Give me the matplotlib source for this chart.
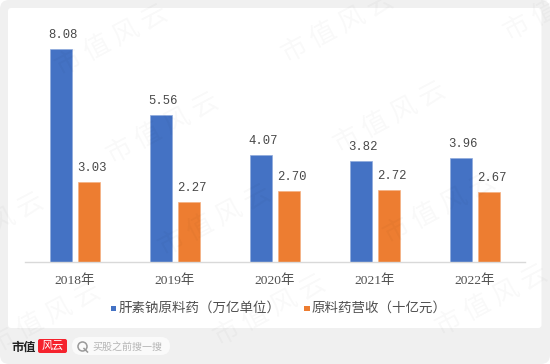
import matplotlib
matplotlib.use("Agg")
import matplotlib.pyplot as plt
from matplotlib.patches import FancyBboxPatch, Rectangle
import numpy as np

years = ["2018年", "2019年", "2020年", "2021年", "2022年"]
series_a_name = "肝素钠原料药（万亿单位）"
series_b_name = "原料药营收（十亿元）"
series_a = [8.08, 5.56, 4.07, 3.82, 3.96]
series_b = [3.03, 2.27, 2.70, 2.72, 2.67]

W, H = 550, 364
CJK = ["Liberation Serif", "Noto Sans CJK SC"]
fig = plt.figure(figsize=(W / 100, H / 100), dpi=100, facecolor="white")

# page furniture in pixel coordinates
bg = fig.add_axes([0, 0, 1, 1], zorder=0)
bg.set_xlim(0, W); bg.set_ylim(H, 0); bg.axis("off")
bg.add_patch(FancyBboxPatch((0, 0), W, H, boxstyle="round,pad=0,rounding_size=9", fc="#f0f0f0", ec="none"))
bg.add_patch(FancyBboxPatch((8, 8), 533.5, 320, boxstyle="round,pad=0,rounding_size=3", fc="white", ec="none"))

# chart
ax = fig.add_axes([25 / W, 1 - 262 / H, 500 / W, 232 / H], zorder=1)
ax.patch.set_alpha(0)
x = np.arange(len(years))
ax.bar(x - 0.14, series_a, 0.225, color="#4472c4", edgecolor="#8faadc", linewidth=0.5)
ax.bar(x + 0.14, series_b, 0.225, color="#ed7d31", edgecolor="#f4b183", linewidth=0.5)
ax.set_xlim(-0.5, 4.5)
ax.set_ylim(0, 232 / 26.36)
for s in ("top", "left", "right"):
    ax.spines[s].set_visible(False)
ax.spines["bottom"].set_color("#d9d9d9")
ax.spines["bottom"].set_linewidth(1)
ax.set_yticks([])
ax.set_xticks(x)
ax.set_xticklabels(years, family=CJK, fontsize=9.7, color="#505050")
ax.tick_params(axis="x", length=0, pad=9)
for i, (a, b) in enumerate(zip(series_a, series_b)):
    ax.annotate(f"{a:.2f}", (i - 0.14, a), xytext=(2, 8), textcoords="offset pixels",
                ha="center", va="bottom", family="Liberation Mono", fontsize=8.8, color="#484848")
    ax.annotate(f"{b:.2f}", (i + 0.14, b), xytext=(3, 8), textcoords="offset pixels",
                ha="center", va="bottom", family="Liberation Mono", fontsize=8.8, color="#484848")

# legend
bg.add_patch(Rectangle((110.5, 305.5), 5.5, 5.5, fc="#4472c4", ec="none"))
bg.text(118.5, 308, series_a_name, family=CJK, fontsize=9.7, color="#505050", va="center")
bg.add_patch(Rectangle((304, 305.5), 5.5, 5.5, fc="#ed7d31", ec="none"))
bg.text(311.5, 308, series_b_name, family=CJK, fontsize=9.7, color="#505050", va="center")

# footer
bg.text(11, 347.5, "市值", family="Noto Sans CJK SC", weight="bold", fontsize=8.8, color="#222222", va="center")
bg.add_patch(FancyBboxPatch((38, 339), 29, 14, boxstyle="round,pad=0,rounding_size=2", fc="#f5222d", ec="none"))
bg.text(52.5, 346, "风云", family="Noto Sans CJK SC", fontsize=8, color="white", ha="center", va="center")
bg.add_patch(FancyBboxPatch((72, 337), 98, 18, boxstyle="round,pad=0,rounding_size=9", fc="#fafafa", ec="none"))
bg.plot([81.5], [346], marker="o", ms=6.5, mfc="none", mec="#999999", mew=1.1)
bg.plot([84, 87.5], [348.5, 352], color="#999999", lw=1.1)
bg.text(92.5, 346.5, "买股之前搜一搜", family="Noto Sans CJK SC", fontsize=7.2, color="#b5b5b5", va="center")

# watermarks
marks = [(112, 40), (163, 128), (338, 27), (390, 117), (560, 5), (45, 318), (270, 310), (492, 300), (-12, 228), (215, 220), (440, 208)]
wm = fig.add_axes([0, 0, 1, 1], zorder=2)
wm.set_xlim(0, W); wm.set_ylim(H, 0); wm.axis("off"); wm.patch.set_alpha(0)
for mx, my in marks:
    wm.text(mx, my, "市 值 风 云", family="Noto Sans CJK SC", fontsize=19, color="#000000", alpha=0.028,
            rotation=28, ha="center", va="center", rotation_mode="anchor")

fig.savefig("out.png", dpi=100, facecolor=fig.get_facecolor())
